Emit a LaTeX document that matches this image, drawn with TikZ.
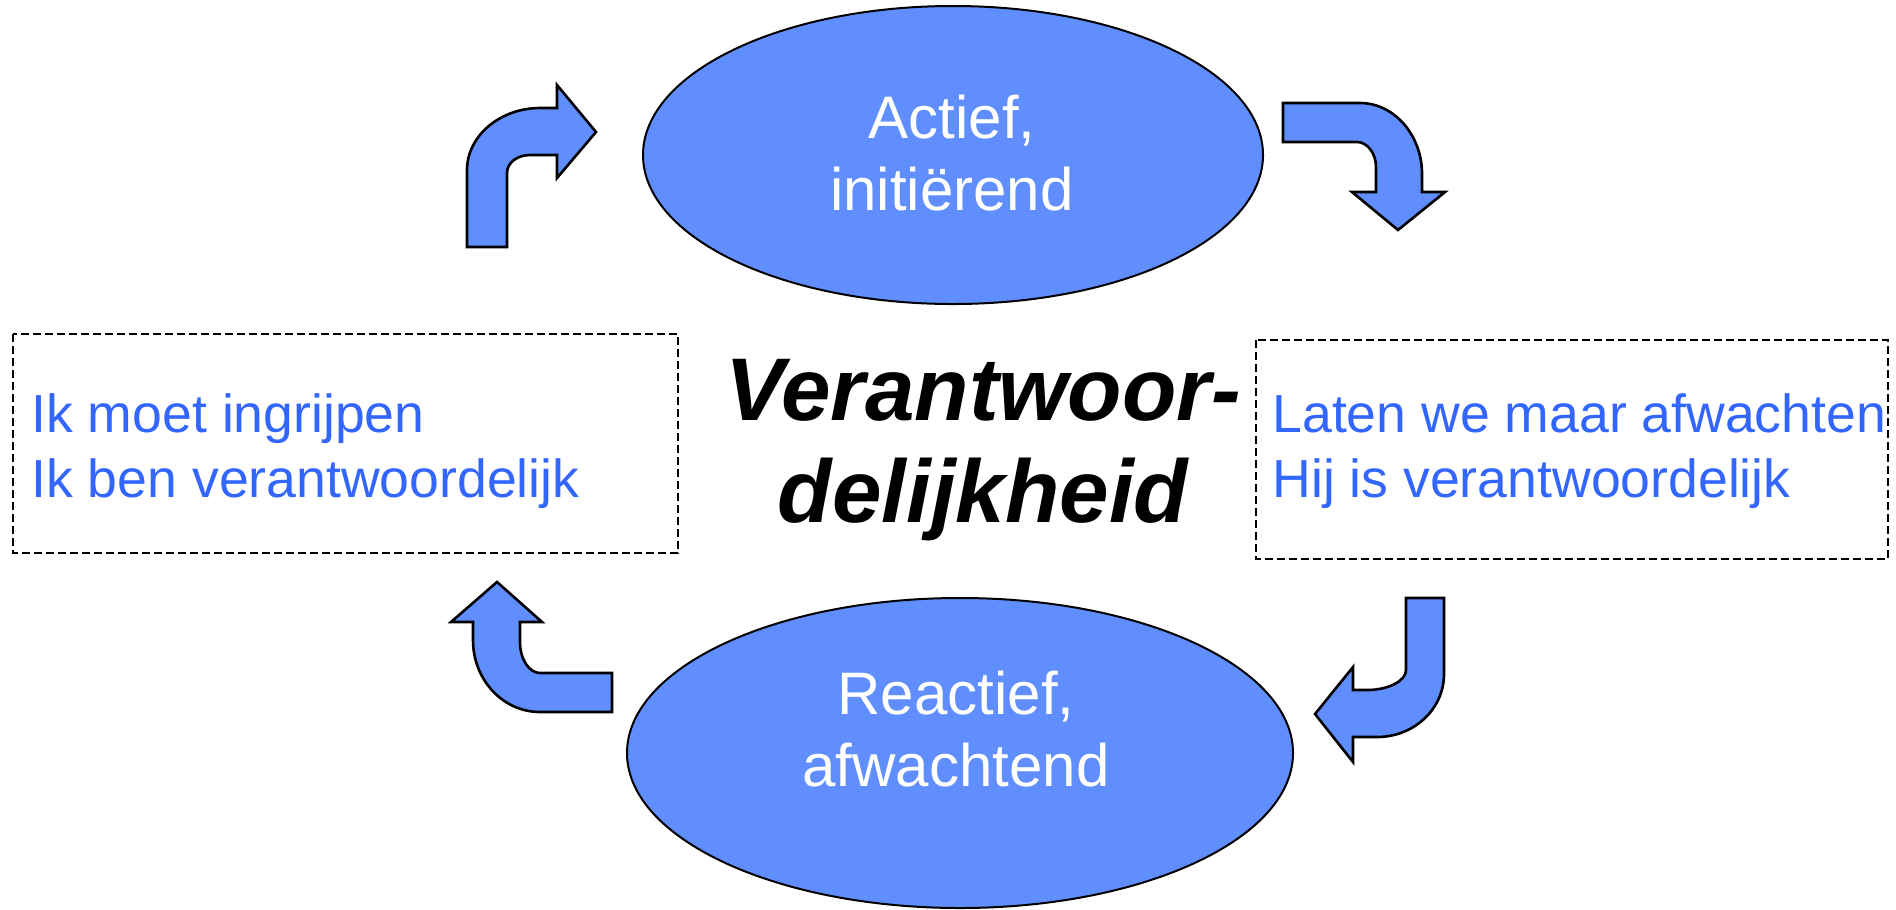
\documentclass[tikz,border=0pt]{standalone}
\usepackage{fontspec}
\setmainfont{Liberation Sans}
\usetikzlibrary{shapes.geometric}
\definecolor{ovalblue}{RGB}{97,142,255}
\definecolor{textblue}{RGB}{51,102,255}

\begin{document}
\begin{tikzpicture}[x=0.5bp,y=-0.5bp,
  oval/.style={ellipse,draw,line width=1bp,fill=ovalblue,inner sep=0pt},
  ovaltext/.style={text=white,align=center,inner sep=0pt,font=\fontsize{30bp}{36bp}\selectfont},
  sidetext/.style={text=textblue,align=left,inner sep=0pt,anchor=west,font=\fontsize{26.8bp}{32.5bp}\selectfont},
  dashbox/.style={draw,line width=1bp,dash pattern=on 4bp off 2bp},
  bendarrow/.style={draw,line width=1.3bp,fill=ovalblue,line join=miter}]%
\useasboundingbox (0,0) rectangle (1896,909);%
% the two states
\node[oval,minimum width=310bp,minimum height=149bp] (actief) at (953,155) {};%
\node[oval,minimum width=333bp,minimum height=155bp] (reactief) at (960,753) {};%
\node[ovaltext] (actieftekst) at (952,153) {Actief,\\initiërend};%
\node[ovaltext] (reactieftekst) at (956,729) {Reactief,\\afwachtend};%
% dashed boxes
\draw[dashbox] (13,334) rectangle (678,553);%
\draw[dashbox] (1256,340) rectangle (1888,559);%
\node[sidetext] (ingrijpen) at (31,451) {Ik moet ingrijpen\\Ik ben verantwoordelijk};%
\node[sidetext] (afwachten) at (1272,451) {Laten we maar afwachten\\Hij is verantwoordelijk};%
% middle word
\node[font=\fontsize{44.5bp}{51bp}\selectfont\bfseries\itshape,align=center,inner sep=0pt] (kern) at (983,450) {Verantwoor-\\delijkheid};%
% bent arrows, clockwise
\draw[bendarrow] (467,247) -- (467,170) .. controls (467,136) and (500,108) .. (540,108) -- (557,108) -- (557,85) -- (596,132) -- (557,178) -- (557,155) -- (530,155) .. controls (517,155) and (507,163) .. (507,173) -- (507,247) -- cycle;%
\draw[bendarrow] (1283,103) -- (1360,103) .. controls (1394,103) and (1422,135) .. (1422,174) -- (1422,192) -- (1445,192) -- (1398,230) -- (1352,192) -- (1376,192) -- (1376,167) .. controls (1376,153) and (1367,142) .. (1357,142) -- (1283,142) -- cycle;%
\draw[bendarrow] (1406,598) -- (1444,598) -- (1444,674) .. controls (1444,709) and (1414,737) .. (1377,737) -- (1353,737) -- (1353,762) -- (1315,714) -- (1353,667) -- (1353,690) -- (1367,690) .. controls (1388,690) and (1406,681) .. (1406,670) -- cycle;%
\draw[bendarrow] (612,673) -- (540,673) .. controls (529,673) and (520,659) .. (520,642) -- (520,622) -- (542,622) -- (497,582) -- (451,622) -- (473,622) -- (473,640) .. controls (473,680) and (503,712) .. (540,712) -- (612,712) -- cycle;%
\end{tikzpicture}
\end{document}
